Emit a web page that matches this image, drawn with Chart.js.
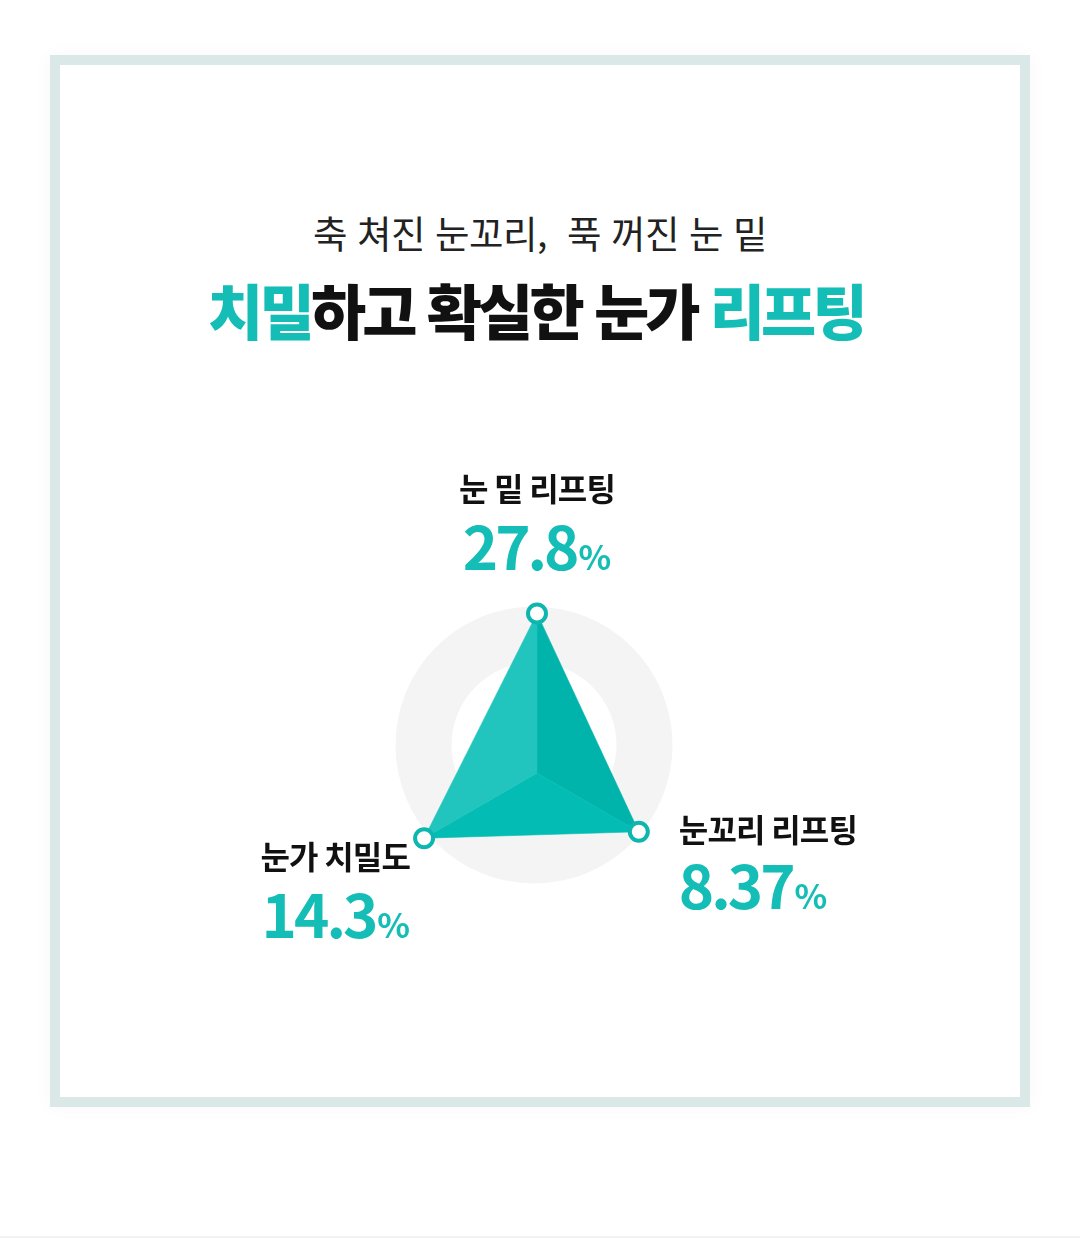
<!DOCTYPE html>
<html lang="ko">
<head>
<meta charset="utf-8">
<title>눈가 리프팅</title>
<script src="https://cdn.jsdelivr.net/npm/chart.js@4.4.1/dist/chart.umd.min.js"></script>
<style>
  html, body { margin: 0; padding: 0; background: #fff; }
  body { width: 1080px; height: 1239px; position: relative; overflow: hidden;
         font-family: "Noto Sans CJK KR", "Noto Sans", sans-serif; }
  .frame { position: absolute; left: 50px; top: 55px; width: 960px; height: 1032px;
           border: 10px solid #dae8e8; box-shadow: 0 0 18px rgba(0,0,0,0.035); background: #fff; }
  .sub { position: absolute; left: 0; width: 1080px; top: 209px; text-align: center;
         font-size: 37.5px; line-height: 1.2; color: #222; letter-spacing: -0.5px; white-space: pre; }
  .head { position: absolute; left: -4px; width: 1080px; top: 273px; text-align: center;
          font-size: 60px; line-height: 1.2; font-weight: 900; color: #111; letter-spacing: -3.8px; }
  .head em { font-style: normal; color: #14bdb5; }
  .foot { position: absolute; left: 0; top: 1236px; width: 1080px; height: 2px; background: #f2f2f2; }
  #wrap { position: absolute; left: 180px; top: 460px; width: 720px; height: 540px; }
</style>
</head>
<body>
<div class="frame"></div>
<div class="sub">축 쳐진 눈꼬리,  푹 꺼진 눈 밑</div>
<div class="head"><em>치밀</em>하고 확실한 눈가 <em>리프팅</em></div>
<div id="wrap"><canvas id="myRadar"></canvas></div>
<div class="foot"></div>
<script>
(() => {
    'use strict'

    // data
    const categories = ['눈 밑 리프팅', '눈꼬리 리프팅', '눈가 치밀도']
    const values = [27.8, 8.37, 14.3]
    const valueLabels = ['27.8', '8.37', '14.3']

    const teal = '#14bdb5'
    const font = '"Noto Sans CJK KR", "Noto Sans", sans-serif'

    // grey ring behind + faceted triangle
    const facets = {
        id: 'facets',
        beforeDatasetsDraw(chart) {
            const c = chart.ctx
            const s = chart.scales.r
            const pts = chart.getDatasetMeta(0).data
            const cx = s.xCenter, cy = s.yCenter

            c.save()
            c.beginPath()
            c.arc(cx - 3, cy - 28, 138.5, 0, Math.PI * 2)
            c.arc(cx - 3, cy - 28, 82.5, 0, Math.PI * 2, true)
            c.fillStyle = '#f4f4f4'
            c.fill('evenodd')

            const tri = (a, b, col) => {
                c.beginPath()
                c.moveTo(cx, cy)
                c.lineTo(a.x, a.y)
                c.lineTo(b.x, b.y)
                c.closePath()
                c.fillStyle = col
                c.strokeStyle = col
                c.lineWidth = 0.6
                c.fill()
                c.stroke()
            }
            tri(pts[0], pts[1], '#00b3ab')
            tri(pts[1], pts[2], '#03bcb4')
            tri(pts[2], pts[0], '#22c5bd')
            c.restore()
        }
    }

    // category + value labels next to each point
    const labels = {
        id: 'labels',
        afterDatasetsDraw(chart) {
            const c = chart.ctx
            const pts = chart.getDatasetMeta(0).data
            const place = [
                { align: 'center', dx: 0, nameDy: -112, numDy: -43 },
                { align: 'left', dx: 40, nameDy: 10, numDy: 77 },
                { align: 'right', dx: -14, nameDy: 31, numDy: 100 }
            ]
            c.save()
            c.textBaseline = 'alphabetic'
            pts.forEach((p, i) => {
                const o = place[i]
                const x = p.x + o.dx

                c.font = 'bold 32px ' + font
                c.letterSpacing = '-0.8px'
                c.fillStyle = '#111'
                c.textAlign = o.align
                c.fillText(categories[i], x, p.y + o.nameDy)

                c.textAlign = 'left'
                c.font = 'bold 60px ' + font
                c.letterSpacing = '-3px'
                const wn = c.measureText(valueLabels[i]).width
                c.font = 'bold 34px ' + font
                c.letterSpacing = '0px'
                const wp = c.measureText('%').width
                const total = wn + 2 + wp
                let x0 = x
                if (o.align === 'center') x0 = x - total / 2
                if (o.align === 'right') x0 = x - total

                c.fillStyle = teal
                c.font = 'bold 60px ' + font
                c.letterSpacing = '-3px'
                c.fillText(valueLabels[i], x0, p.y + o.numDy)
                c.font = 'bold 34px ' + font
                c.letterSpacing = '0px'
                c.fillText('%', x0 + wn + 2, p.y + o.numDy)
            })
            c.restore()
        }
    }

    const ctx = document.getElementById('myRadar')
    // eslint-disable-next-line no-unused-vars
    const myRadar = new Chart(ctx, {
        type: 'radar',
        data: {
            labels: categories,
            datasets: [{
                data: values,
                fill: false,
                backgroundColor: 'transparent',
                borderWidth: 0,
                borderColor: 'transparent',
                pointRadius: 9,
                pointBorderWidth: 4,
                pointBorderColor: '#0db6ae',
                pointBackgroundColor: '#fff'
            }]
        },
        options: {
            responsive: true,
            maintainAspectRatio: false,
            animation: false,
            layout: {
                padding: { left: 150, right: 156, top: 113, bottom: 27 }
            },
            plugins: {
                legend: { display: false },
                tooltip: { enabled: false }
            },
            scales: {
                r: {
                    min: -46,
                    max: 46.5,
                    grid: { display: false },
                    angleLines: { display: false },
                    ticks: { display: false },
                    pointLabels: { display: false }
                }
            }
        },
        plugins: [facets, labels]
    })
})()
</script>
</body>
</html>
